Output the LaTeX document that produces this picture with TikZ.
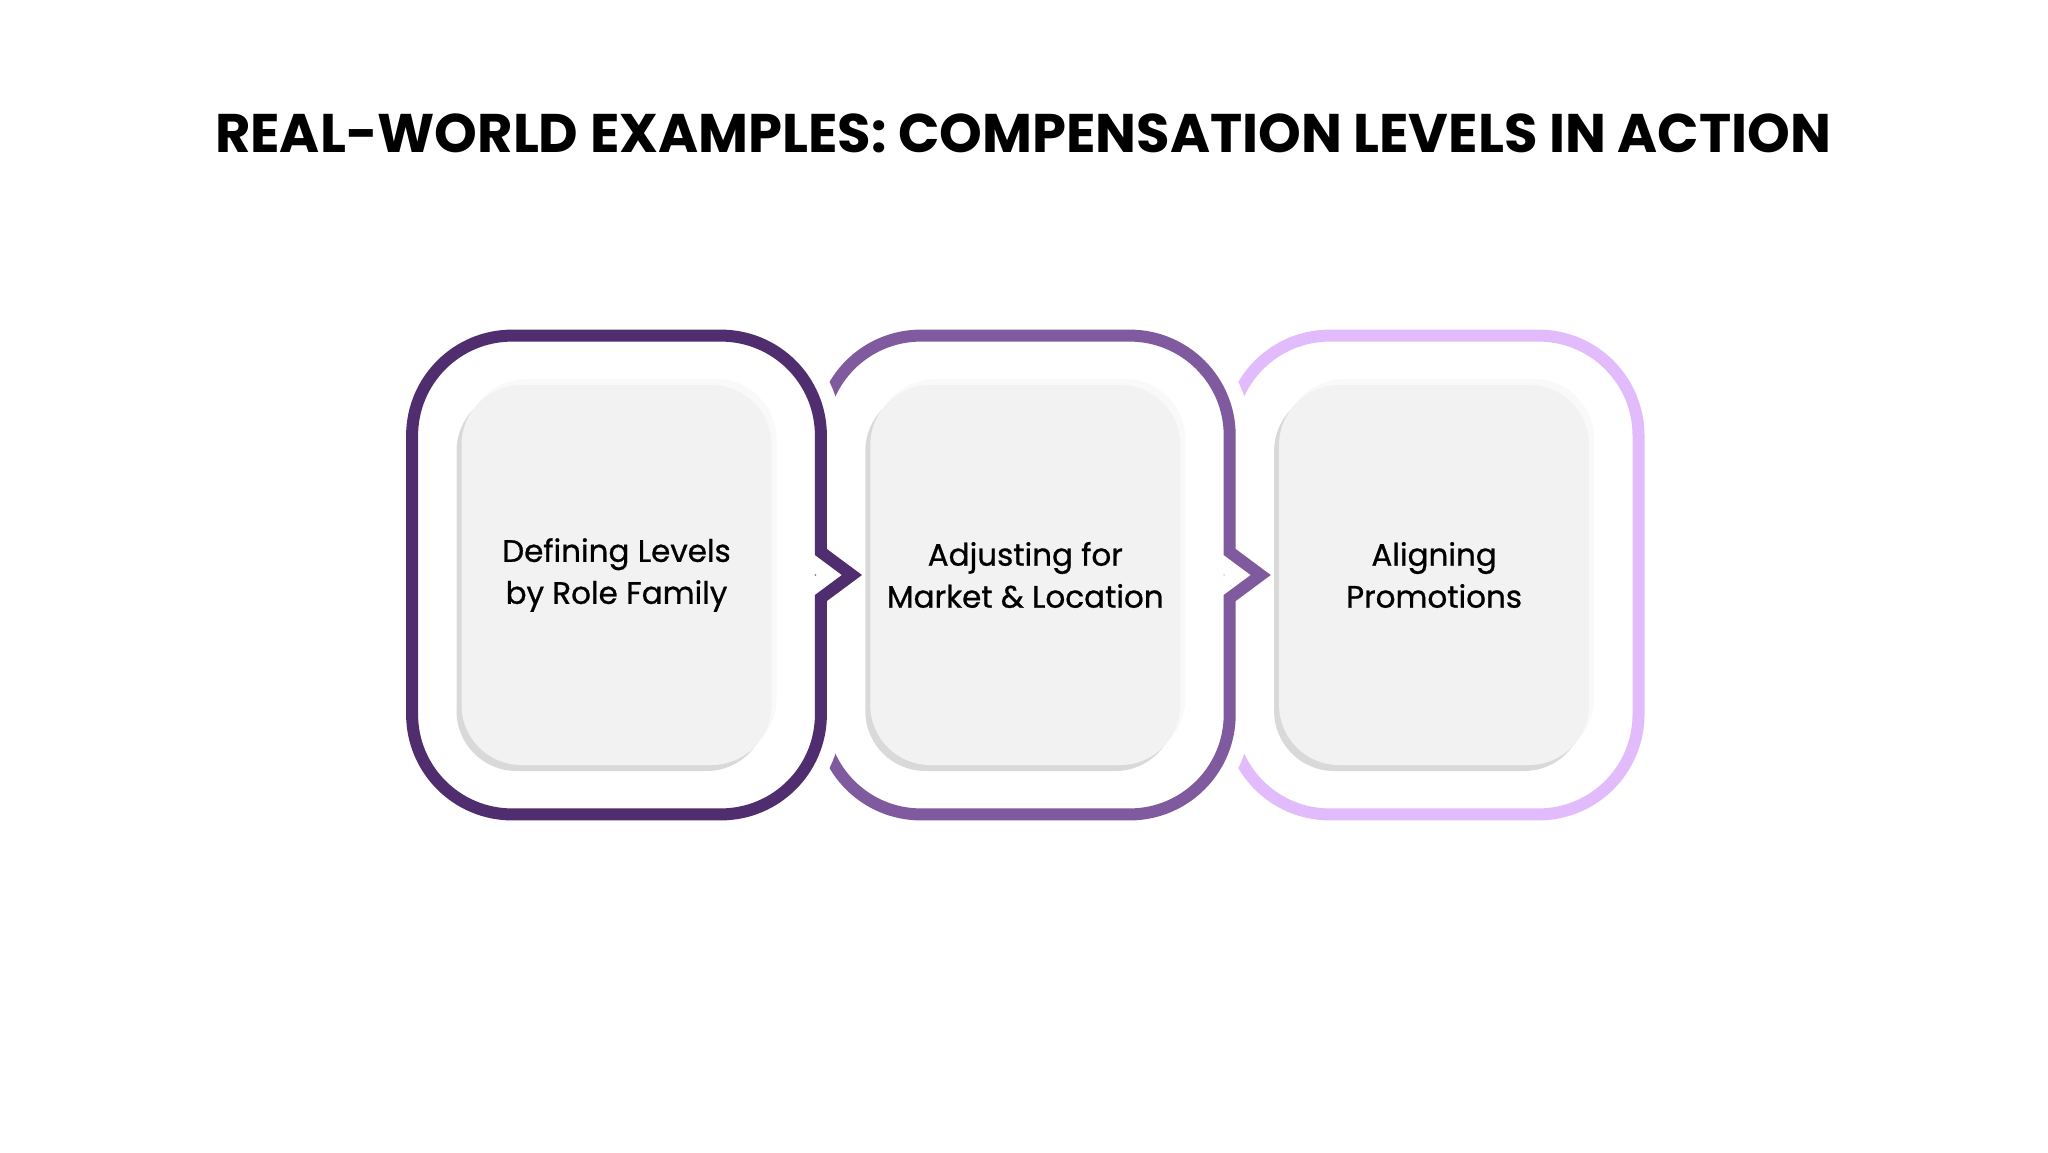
\documentclass[tikz,border=0pt]{standalone}
\usepackage{fontspec}
\setmainfont{Poppins}
\usetikzlibrary{positioning,calc,shadows}
\definecolor{lvlDark}{HTML}{4F2D6F}
\definecolor{lvlMid}{HTML}{7F5A9F}
\definecolor{lvlLight}{HTML}{E1BBFB}
\definecolor{cardFill}{HTML}{F2F2F2}
\definecolor{cardShade}{HTML}{D9D9D9}
\definecolor{cardGlow}{HTML}{F9F9F9}
\begin{document}
\begin{tikzpicture}[
  node distance=0pt,
  frame/.style={minimum width=204pt, minimum height=239pt, inner sep=0pt},
  ring/.style={line width=6pt, line join=miter},
  halo/.style={preaction={draw=white, line width=21pt}},
  card/.style={rounded corners=30pt, minimum width=155pt, minimum height=190pt, fill=cardFill, align=center,
    font=\fontsize{15.5pt}{21pt}\selectfont\addfontfeatures{FakeBold=0.8},
    general shadow={fill=cardGlow, shadow xshift=2.5pt, shadow yshift=3pt},
    general shadow={fill=cardShade, shadow xshift=-2.5pt, shadow yshift=-3pt}},
  title/.style={font=\fontsize{27.2pt}{33pt}\selectfont\bfseries}
]
\useasboundingbox (0,0) rectangle (1024pt,-576pt);
\node[title] (head) at (511.5pt,-66.5pt) {REAL-WORLD EXAMPLES: COMPENSATION LEVELS IN ACTION};
\node[frame] (f1) at (308.25pt,-287.5pt) {};
\node[frame, right=of f1] (f2) {};
\node[frame, right=of f2] (f3) {};
\draw[ring, lvlLight, rounded corners=50pt] (f3.south west) rectangle (f3.north east);
\foreach \f/\c in {f2/lvlMid, f1/lvlDark}
  \draw[ring, draw=\c, halo] ($(\f.east)+(0,-11.5pt)$) [rounded corners=50pt] -- (\f.south east) -- (\f.south west) -- (\f.north west) -- (\f.north east) [sharp corners] -- ($(\f.east)+(0,11.5pt)$) -- ($(\f.east)+(15.5pt,0)$) -- cycle;
\node[card] (c1) at (f1) {Defining Levels\\by Role Family};
\node[card] (c2) at (f2) {Adjusting for\\Market \& Location};
\node[card] (c3) at (f3) {Aligning\\Promotions};
\end{tikzpicture}
\end{document}
